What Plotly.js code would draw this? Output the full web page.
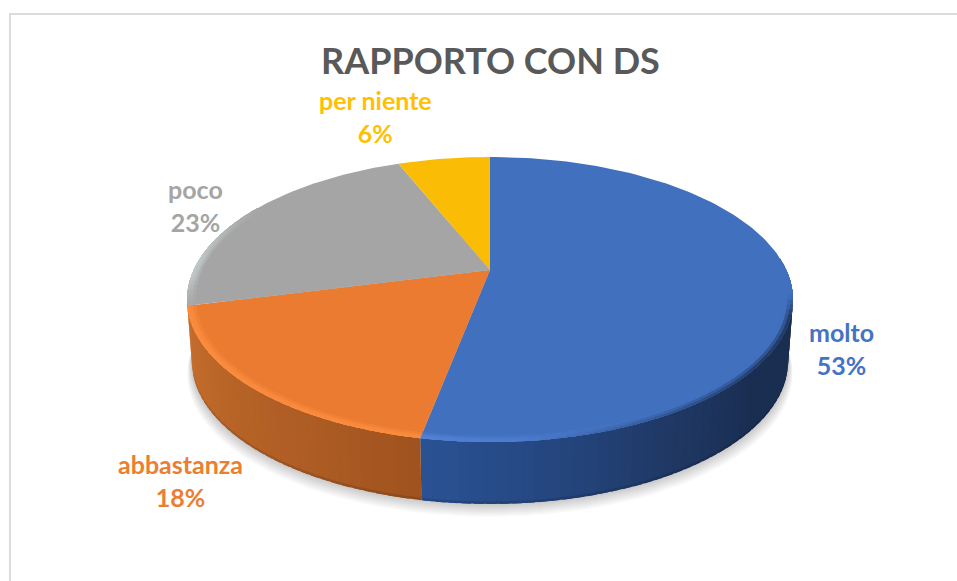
<!DOCTYPE html>
<html><head><meta charset="utf-8">
<script src="https://cdn.plot.ly/plotly-3.0.1.min.js"></script>
<style>html,body{margin:0;padding:0;background:#fff}#c{width:957px;height:581px}</style>
</head><body><div id="c"></div>
<script>
// data
const categories = ['molto','abbastanza','poco','per niente'];
const values = [53,18,23,6];
const chartTitle = 'RAPPORTO CON DS';
// styles
const topColors = ['#4170bf','#ea7b30','#a5a5a5','#fbbc05'];
const labelColors = ['#4472c4','#ed7d31','#a5a5a5','#ffc000'];
const labelPos = [[841,348],[180,480],[195,205],[375,116]];
const wallStops = [
  [[85,[26,45,80]],[130,[26,46,82]],[150,[31,56,100]],[170,[37,70,127]],[195,[43,85,152]]],
  [[190,[160,82,30]],[210,[173,92,36]],[240,[190,104,42]],[260,[203,112,48]]],
  null,null];
// projection of a unit disc through a simple perspective, in data units
const cx=490, cy=270, a=296.4, b=136.4, p=0.207, depth=62;
function proj(r,deg,t){
  const th=deg*Math.PI/180, u=r*Math.sin(th), v=r*Math.cos(th), d=1+p*v;
  t=t||0;
  const s=1-0.016*t;
  return [cx+s*a*u/d, cy-b*v/d+depth*t];
}
function lerpStops(st,deg){
  if(deg<=st[0][0]) return st[0][1];
  for(let i=1;i<st.length;i++) if(deg<=st[i][0]){
    const f=(deg-st[i-1][0])/(st[i][0]-st[i-1][0]);
    return st[i-1][1].map((c,k)=>c+(st[i][1][k]-c)*f);
  }
  return st[st.length-1][1];
}
const rgb=c=>'rgb('+c.map(Math.round).join(',')+')';
const mix=(x,y,f)=>x.map((c,k)=>c+(y[k]-c)*f);
const hex=h=>[1,3,5].map(i=>parseInt(h.substr(i,2),16));
const traces=[];
function poly(pts,fill){
  traces.push({type:'scatter',mode:'lines',x:pts.map(q=>q[0]),y:pts.map(q=>q[1]),
    fill:'toself',fillcolor:fill,line:{width:0,color:'rgba(0,0,0,0)'},hoverinfo:'skip',showlegend:false});
}
// soft shadow below the disc
for(let k=13;k>=1;k--){
  const pts=[];
  for(let d=0;d<=360;d+=3){const q=proj(1,d,1);pts.push([q[0]+(q[0]-cx)*k*0.0012,q[1]+k*1.0]);}
  poly(pts,'rgba(40,40,70,0.019)');
}
const total=values.reduce((s,v)=>s+v,0);
const edges=[0];values.forEach(v=>edges.push(edges[edges.length-1]+v/total*360));
const clampE=(e,hi)=>Math.min(e,hi);
// side wall: each strip overlaps the next one so that no seam shows
values.forEach((v,i)=>{
  if(!wallStops[i]) return;
  const st=wallStops[i], lo=Math.max(edges[i],85), hi=Math.min(edges[i+1],275), step=2;
  for(let d=lo;d<hi;d+=step){
    const e=clampE(d+step+1.5,hi), c=lerpStops(st,d+step/2), dark=c.map(x=>x*0.88);
    const q=t=>[proj(1,d,t),proj(1,e,t)];
    const A=q(0),B=q(0.96),M=q(0.92),C=q(1);
    poly([M[0],M[1],C[1],C[0]],rgb(dark));
    poly([A[0],A[1],B[1],B[0]],rgb(c));
  }
});
// top faces
values.forEach((v,i)=>{
  const pts=[[cx,cy]];
  const n=Math.ceil(v*3);
  for(let k=0;k<=n;k++) pts.push(proj(1,edges[i]+(edges[i+1]-edges[i])*k/n));
  pts.push([cx,cy]);
  poly(pts,topColors[i]);
});
// bevelled rim along the front edge
const bands=[[0.972,1,0.4],[0.982,1,0.85],[0.992,1,1]];
function rimColor(i,deg,w,outer){
  const base=hex(topColors[i]);
  if(i===0){
    const hi=Math.max(0,Math.min(1,(deg-145)/45));
    const lit=mix(base,[82,130,214],hi*w);
    const dk=Math.max(0,Math.min(1,(deg-100)/8))*Math.max(0,Math.min(1,(175-deg)/50));
    return mix(lit,[26,46,82],dk*(outer*0.8));
  }
  if(i===1) return mix(base,[250,140,62],w);
  if(i===2) return mix(base,[190,198,198],w*Math.max(0,Math.min(1,(deg-255)/12)*Math.min(1,(300-deg)/25)));
  return base;
}
values.forEach((v,i)=>{
  if(i>2) return;
  const lo=Math.max(edges[i],90), hi=Math.min(edges[i+1],i===2?300:275);
  bands.forEach((bd,bi)=>{
    for(let d=lo;d<hi;d+=2){
      const e=clampE(d+3,hi);
      const c=rimColor(i,d+1,bd[2],bi/2);
      poly([proj(bd[0],d),proj(bd[0],e),proj(bd[1],e),proj(bd[1],d)],rgb(c));
    }
  });
});
const annotations=categories.map((c,i)=>({
  x:labelPos[i][0],y:labelPos[i][1],xref:'x',yref:'y',showarrow:false,align:'center',
  text:c+'<br>'+values[i]+'%',
  font:{family:'Lato, Carlito, sans-serif',size:25,color:labelColors[i],weight:700}
}));
annotations.push({x:490,y:60,xref:'x',yref:'y',showarrow:false,text:'<b>'+chartTitle+'</b>',
  font:{family:'Lato, Carlito, sans-serif',size:36,color:'#595959'}});
const layout={
  width:957,height:581,margin:{l:0,r:0,t:0,b:0},paper_bgcolor:'#fff',plot_bgcolor:'#fff',
  xaxis:{range:[0,957],visible:false,fixedrange:true},
  yaxis:{range:[581,0],visible:false,fixedrange:true},
  showlegend:false,hovermode:false,annotations,
  shapes:[{type:'line',xref:'x',yref:'y',x0:9,x1:957,y0:14,y1:14,line:{color:'#dcdcdc',width:2}},
          {type:'line',xref:'x',yref:'y',x0:10,x1:10,y0:14,y1:581,line:{color:'#dcdcdc',width:2}}]
};
Plotly.newPlot('c',traces,layout,{displayModeBar:false,staticPlot:true});
</script></body></html>
